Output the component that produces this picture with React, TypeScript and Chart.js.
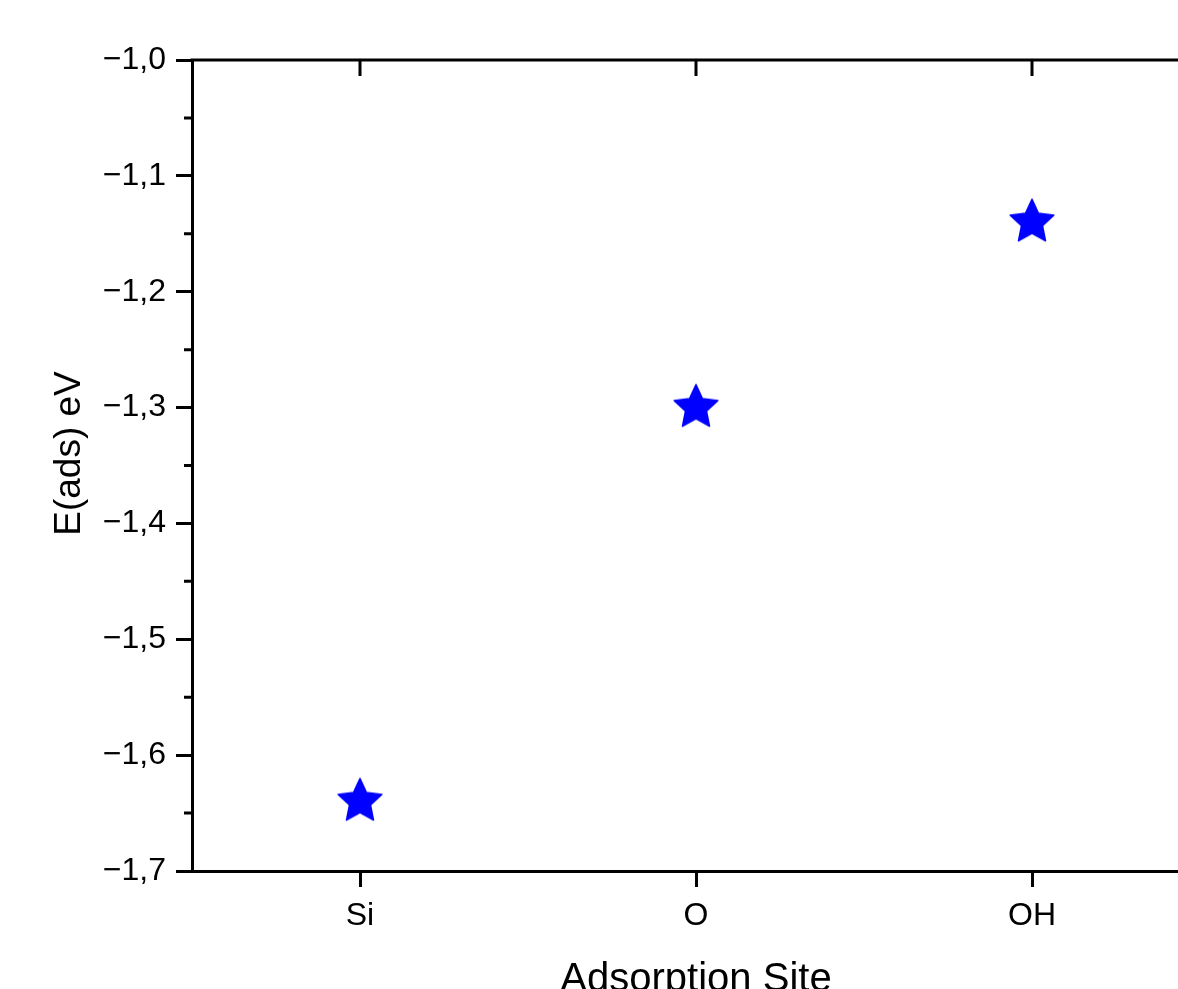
import React, { useEffect, useRef } from 'react';
import { Chart, registerables } from 'chart.js';

Chart.register(...registerables);

const categories = ['Si', 'O', 'OH'];
const energies = [-1.64, -1.3, -1.14];
const yMajorTicks = [-1.7, -1.6, -1.5, -1.4, -1.3, -1.2, -1.1, -1.0];
const yTickLabels = ['−1,7', '−1,6', '−1,5', '−1,4', '−1,3', '−1,2', '−1,1', '−1,0'];
const yMinorTicks = [-1.65, -1.55, -1.45, -1.35, -1.25, -1.15, -1.05];
const xTitle = 'Adsorption Site';
const yTitle = 'E(ads) eV';

const FONT = "'Liberation Sans', Arial, Helvetica, sans-serif";

function makeStar(color: string, R: number, ratio: number): HTMLCanvasElement {
  const size = Math.ceil(R * 2 + 4);
  const c = document.createElement('canvas');
  c.width = size;
  c.height = size;
  const ctx = c.getContext('2d')!;
  const cx = size / 2;
  const cy = size / 2;
  ctx.beginPath();
  for (let i = 0; i < 10; i++) {
    const r = i % 2 === 0 ? R : R * ratio;
    const a = -Math.PI / 2 + (i * Math.PI) / 5;
    const x = cx + r * Math.cos(a);
    const y = cy + r * Math.sin(a);
    if (i === 0) ctx.moveTo(x, y);
    else ctx.lineTo(x, y);
  }
  ctx.closePath();
  ctx.fillStyle = color;
  ctx.lineJoin = 'round';
  ctx.strokeStyle = color;
  ctx.lineWidth = 1.5;
  ctx.fill();
  ctx.stroke();
  return c;
}

const framePlugin = {
  id: 'frame',
  afterDraw(chart: any) {
    const { ctx, chartArea } = chart;
    const { left, right, top, bottom } = chartArea;
    const xs = chart.scales.x;
    const ys = chart.scales.y;
    ctx.save();
    ctx.strokeStyle = '#000';
    ctx.lineWidth = 3;
    ctx.lineCap = 'butt';
    ctx.beginPath();
    ctx.moveTo(left - 1.5, top);
    ctx.lineTo(right + 1.5, top);
    ctx.moveTo(right, top);
    ctx.lineTo(right, bottom);
    ctx.stroke();
    ctx.beginPath();
    categories.forEach((_, i) => {
      const px = xs.getPixelForValue(i);
      ctx.moveTo(px, top);
      ctx.lineTo(px, top + 16);
    });
    ctx.stroke();
    ctx.beginPath();
    yMinorTicks.forEach((v) => {
      const py = ys.getPixelForValue(v);
      ctx.moveTo(left - 8, py);
      ctx.lineTo(left, py);
    });
    ctx.stroke();
    ctx.fillStyle = '#000';
    ctx.font = `37px ${FONT}`;
    ctx.textAlign = 'center';
    ctx.textBaseline = 'alphabetic';
    ctx.save();
    ctx.translate(80, (top + bottom) / 2 - 12);
    ctx.rotate(-Math.PI / 2);
    ctx.fillText(yTitle, 0, 0);
    ctx.restore();
    ctx.font = `40px ${FONT}`;
    ctx.fillText(xTitle, (left + right) / 2, 991);
    ctx.restore();
  },
};

export default function App() {
  const ref = useRef<HTMLCanvasElement | null>(null);

  useEffect(() => {
    if (!ref.current) return;
    const star = makeStar('#0000ff', 23, 0.48);
    const chart = new Chart(ref.current, {
      type: 'line',
      data: {
        labels: categories,
        datasets: [
          {
            data: energies,
            showLine: false,
            pointStyle: star as any,
            pointRadius: 23,
            pointHoverRadius: 23,
            borderWidth: 0,
            backgroundColor: '#0000ff',
            borderColor: '#0000ff',
          },
        ],
      },
      options: {
        responsive: false,
        animation: false,
        events: [],
        layout: { padding: { left: 0, top: 60, right: 40, bottom: 0 } },
        plugins: { legend: { display: false }, tooltip: { enabled: false } },
        scales: {
          x: {
            type: 'category',
            offset: true,
            grid: {
              display: true,
              drawOnChartArea: false,
              drawTicks: true,
              tickLength: 16,
              color: '#000',
              lineWidth: 3,
              offset: false,
            },
            border: { display: true, color: '#000', width: 3 },
            ticks: {
              color: '#000',
              font: { family: FONT, size: 32 },
              padding: 10,
              maxRotation: 0,
            },
            afterFit: (s: any) => {
              s.height = 129;
            },
          },
          y: {
            type: 'linear',
            min: -1.7,
            max: -1.0,
            afterBuildTicks: (s: any) => {
              s.ticks = yMajorTicks.map((v) => ({ value: v }));
            },
            grid: {
              display: true,
              drawOnChartArea: false,
              drawTicks: true,
              tickLength: 16,
              color: '#000',
              lineWidth: 3,
            },
            border: { display: true, color: '#000', width: 3 },
            ticks: {
              color: '#000',
              font: { family: FONT, size: 32 },
              padding: 10,
              callback: (v: any) => {
                const idx = yMajorTicks.findIndex((t) => Math.abs(t - Number(v)) < 1e-6);
                return idx >= 0 ? yTickLabels[idx] : '';
              },
            },
            afterFit: (s: any) => {
              s.width = 192;
            },
          },
        },
      },
      plugins: [framePlugin],
    });
    return () => chart.destroy();
  }, []);

  return (
    <div
      style={{
        position: 'fixed',
        left: 0,
        top: 0,
        width: '100vw',
        height: '100vh',
        overflow: 'hidden',
        background: '#fff',
      }}
    >
      <canvas
        ref={ref}
        width={1240}
        height={1000}
        style={{ position: 'absolute', left: 0, top: 0, display: 'block', width: 1240, height: 1000 }}
      />
    </div>
  );
}
